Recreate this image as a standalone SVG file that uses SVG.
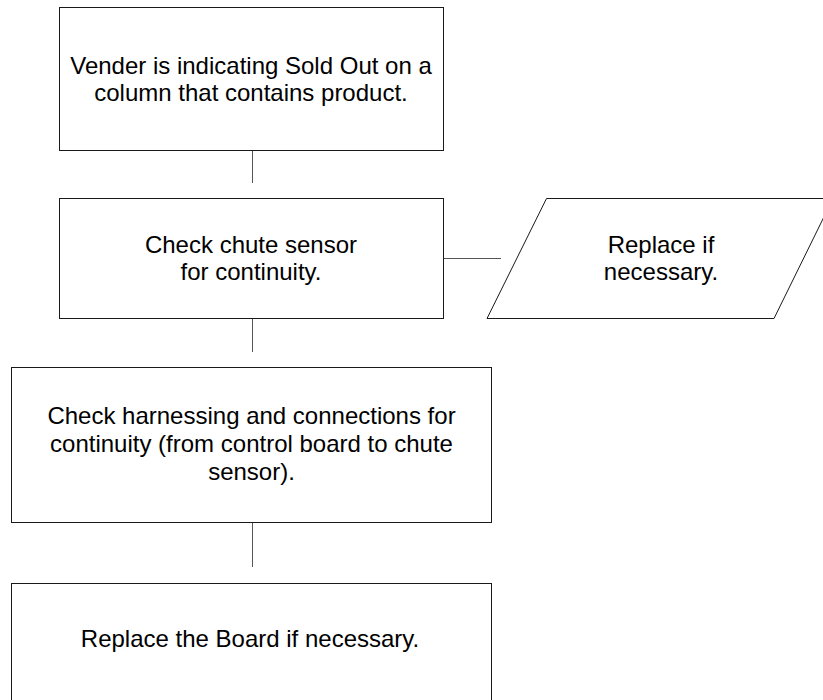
<svg xmlns="http://www.w3.org/2000/svg" width="823" height="700" viewBox="0 0 823 700">
<style>
.box{fill:#fff;stroke:#1a1a1a;stroke-width:1}
.conn{stroke:#555;stroke-width:1;fill:none}
text{font-family:"Liberation Sans",Arial,sans-serif;font-size:24px;fill:#000;text-anchor:middle}
</style>
<rect width="823" height="700" fill="#fff"/>
<g id="connectors">
<line class="conn" x1="252.5" y1="150.5" x2="252.5" y2="183"/>
<line class="conn" x1="443.5" y1="258.5" x2="501" y2="258.5"/>
<line class="conn" x1="252.5" y1="318.5" x2="252.5" y2="352"/>
<line class="conn" x1="252.5" y1="522.5" x2="252.5" y2="567"/>
</g>
<g id="n1">
<rect class="box" x="59.5" y="7.5" width="384" height="143"/>
<text x="251" y="73.5">Vender is indicating Sold Out on a</text>
<text x="251" y="101">column that contains product.</text>
</g>
<g id="n2">
<rect class="box" x="59.5" y="198.5" width="384" height="120"/>
<text x="251" y="252.5">Check chute sensor</text>
<text x="251" y="280">for continuity.</text>
</g>
<g id="n3">
<polygon class="box" points="546.5,198.5 833,198.5 774,318.5 487,318.5"/>
<text x="661" y="252.5">Replace if</text>
<text x="661" y="280">necessary.</text>
</g>
<g id="n4">
<rect class="box" x="11.5" y="367.5" width="480" height="155"/>
<text x="251.5" y="424">Check harnessing and connections for</text>
<text x="251.5" y="452">continuity (from control board to chute</text>
<text x="251.5" y="480">sensor).</text>
</g>
<g id="n5">
<rect class="box" x="11.5" y="583.5" width="480" height="130"/>
<text x="250" y="647">Replace the Board if necessary.</text>
</g>
</svg>
